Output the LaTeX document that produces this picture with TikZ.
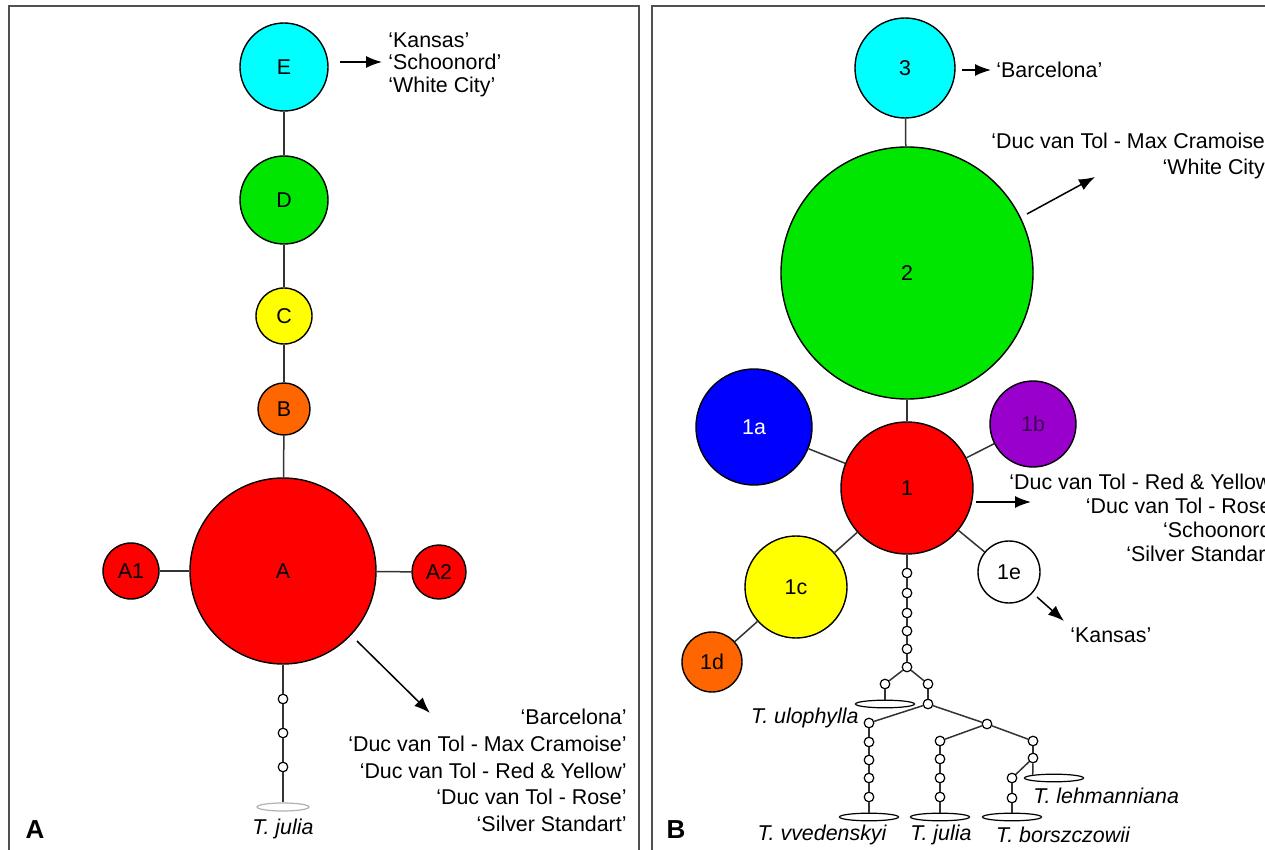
\documentclass[tikz,border=0pt]{standalone}
\usepackage{fontspec}
\setmainfont{Liberation Sans}
\usepackage{tikz}
\usetikzlibrary{positioning, arrows.meta, shapes.geometric}
\definecolor{hapcyan}{RGB}{0,255,255}
\definecolor{hapgreen}{RGB}{0,230,0}
\definecolor{hapyellow}{RGB}{255,255,0}
\definecolor{haporange}{RGB}{255,102,0}
\definecolor{hapred}{RGB}{255,0,0}
\definecolor{hapblue}{RGB}{0,0,255}
\definecolor{happurple}{RGB}{153,0,204}
\definecolor{framegray}{RGB}{80,80,80}

\begin{document}
\begin{tikzpicture}[x=0.5pt, y=-0.5pt, font=\fontsize{10.7}{12.5}\selectfont,
    hap/.style={circle, draw=black, line width=0.7pt, inner sep=0pt},
    mv/.style={circle, draw=black, fill=white, line width=0.6pt, minimum size=4.8pt, inner sep=0pt},
    taxon/.style={ellipse, draw=black, line width=0.6pt, minimum width=29.5pt, minimum height=3.8pt, inner sep=0pt},
    link/.style={draw=black!80, line width=0.75pt},
    pointer/.style={-{Latex[length=8pt,width=6pt]}, line width=0.75pt},
    cultivars/.style={inner sep=0pt},
    species/.style={inner sep=0pt, font=\fontsize{10.7}{12.5}\selectfont\itshape},
    panel/.style={inner sep=0pt, font=\fontsize{13}{14}\selectfont\bfseries}]
 			\useasboundingbox (0,0) rectangle (1265,850);
 			\fill[white] (0,0) rectangle (1265,850);
 			\draw[framegray, line width=0.8pt] (9,6) rectangle (639,870);
 			\draw[framegray, line width=0.8pt] (652,6) rectangle (1280,870);
 			
 			% panel A
 			\node[hap, fill=hapcyan, minimum size=44pt] (E) at (284,67) {E};
 			\node[hap, fill=hapgreen, minimum size=44pt] (D) at (284,200) {D};
 			\node[hap, fill=hapyellow, minimum size=28pt] (C) at (284,316) {C};
 			\node[hap, fill=haporange, minimum size=26pt] (B) at (284,409) {B};
 			\node[hap, fill=hapred, minimum size=93pt] (A) at (283,571) {A};
 			\node[hap, fill=hapred, minimum size=28pt] (A1) at (131,571) {A1};
 			\node[hap, fill=hapred, minimum size=27pt] (A2) at (439,572) {A2};
 			\node[mv] (a1) at (283,699) {};
 			\node[mv] (a2) at (283,733) {};
 			\node[mv] (a3) at (283,767) {};
 			\node[taxon, draw=black!30, minimum width=26pt, minimum height=4pt] (julA) at (283,807) {};
 			\node[species] (julAtxt) at (283,829) {T. julia};
 			
 			\draw[link] (E) edge (D) (D) edge (C) (C) edge (B) (B) edge (A);
 			\draw[link] (A1) edge (A) (A) edge (A2);
 			\draw[link] (A) edge (a1) (a1) edge (a2) (a2) edge (a3) (a3) edge (julA);
 			
 			\coordinate (Eout) at (340,62);
 			\coordinate (Ein) at (382,62);
 			\draw[pointer] (Eout) -- (Ein);
 			\node[cultivars, anchor=north west, align=left, font=\fontsize{10.7}{11.3}\selectfont] (Etxt) at (388,32)
 			  {‘Kansas’\\‘Schoonord’\\‘White City’};
 			\coordinate (Aout) at (357,641);
 			\coordinate (Ain) at (430,713);
 			\draw[pointer] (Aout) -- (Ain);
 			\node[cultivars, anchor=north east, align=right, font=\fontsize{10.7}{13.3}\selectfont] (Atxt) at (627,709)
 			  {‘Barcelona’\\‘Duc van Tol - Max Cramoise’\\‘Duc van Tol - Red \& Yellow’\\‘Duc van Tol - Rose’\\‘Silver Standart’};
 			\node[panel] (labA) at (35,830) {A};
 			
 			% panel B
 			\node[hap, fill=hapcyan, minimum size=50pt] (h3) at (905,68) {3};
 			\node[hap, fill=hapgreen, minimum size=126pt] (h2) at (907,273) {2};
 			\node[hap, fill=hapred, minimum size=66pt] (h1) at (907,488) {1};
 			\node[hap, fill=hapblue, text=white, minimum size=58pt] (h1a) at (754,427) {1a};
 			\node[hap, fill=happurple, text=black!60!happurple, minimum size=43pt] (h1b) at (1033,424) {1b};
 			\node[hap, fill=hapyellow, minimum size=51pt] (h1c) at (796,587) {1c};
 			\node[hap, fill=haporange, minimum size=30pt] (h1d) at (712,662) {1d};
 			\node[hap, fill=white, minimum size=31pt] (h1e) at (1009,572) {1e};
 			
 			\draw[link] (h3) edge (h2) (h2) edge (h1);
 			\draw[link] (h1a) edge (h1) (h1b) edge (h1) (h1c) edge (h1) (h1e) edge (h1) (h1d) edge (h1c);
 			
 			% median vectors and outgroup species
 			\node[mv] (m1) at (907,573) {};
 			\node[mv] (m2) at (907,593) {};
 			\node[mv] (m3) at (907,613) {};
 			\node[mv] (m4) at (907,631) {};
 			\node[mv] (m5) at (907,649) {};
 			\node[mv] (m6) at (907,667) {};
 			\node[mv] (n1) at (885,684) {};
 			\node[mv] (n2) at (928,684) {};
 			\node[mv] (n3) at (928,704) {};
 			\node[mv] (v0) at (869,723) {};
 			\node[mv] (n4) at (987,724) {};
 			\node[mv] (v1) at (869,742) {};
 			\node[mv] (v2) at (869,760) {};
 			\node[mv] (v3) at (869,778) {};
 			\node[mv] (v4) at (869,797) {};
 			\node[mv] (j0) at (940,741) {};
 			\node[mv] (n5) at (1033,741) {};
 			\node[mv] (j1) at (940,759) {};
 			\node[mv] (j2) at (940,778) {};
 			\node[mv] (j3) at (940,797) {};
 			\node[mv] (n6) at (1033,758) {};
 			\node[mv] (b0) at (1012,778) {};
 			\node[mv] (b1) at (1012,798) {};
 			
 			\node[taxon] (ulo) at (885,704) {};
 			\node[taxon] (vve) at (869,817) {};
 			\node[taxon] (julB) at (940,817) {};
 			\node[taxon] (bor) at (1012,817) {};
 			\node[taxon] (leh) at (1054,778) {};
 			
 			\draw[link] (h1) edge (m1) (m1) edge (m2) (m2) edge (m3) (m3) edge (m4) (m4) edge (m5) (m5) edge (m6);
 			\draw[link] (m6) edge (n1) (m6) edge (n2) (n1) edge (ulo) (n2) edge (n3);
 			\draw[link] (n3) edge (v0) (n3) edge (n4);
 			\draw[link] (v0) edge (v1) (v1) edge (v2) (v2) edge (v3) (v3) edge (v4) (v4) edge (vve);
 			\draw[link] (n4) edge (j0) (n4) edge (n5);
 			\draw[link] (j0) edge (j1) (j1) edge (j2) (j2) edge (j3) (j3) edge (julB);
 			\draw[link] (n5) edge (n6) (n6) edge (b0) (n6) edge (leh.north west);
 			\draw[link] (b0) edge (b1) (b1) edge (bor);
 			
 			\node[species, anchor=east] (ulotxt) at (859,718) {T. ulophylla};
 			\node[species] (vvetxt) at (822,835) {T. vvedenskyi};
 			\node[species] (julBtxt) at (941,835) {T. julia};
 			\node[species] (bortxt) at (1063,835) {T. borszczowii};
 			\node[species, anchor=west] (lehtxt) at (1033,796) {T. lehmanniana};
 			
 			% cultivar pointers
 			\coordinate (h3out) at (962,70);
 			\coordinate (h3in) at (991,70);
 			\draw[pointer] (h3out) -- (h3in);
 			\node[cultivars, anchor=west] (h3txt) at (996,70) {‘Barcelona’};
 			\coordinate (h2out) at (1027,214);
 			\coordinate (h2in) at (1095,177);
 			\draw[pointer] (h2out) -- (h2in);
 			\node[cultivars, anchor=north west, align=right, font=\fontsize{10.7}{13}\selectfont] (h2txt) at (991,133)
 			  {‘Duc van Tol - Max Cramoise’\\‘White City’};
 			\coordinate (h1out) at (976,502);
 			\coordinate (h1in) at (1031,502);
 			\draw[pointer] (h1out) -- (h1in);
 			\node[cultivars, anchor=north west, align=right, font=\fontsize{10.7}{12}\selectfont] (h1txt) at (1009,474)
 			  {‘Duc van Tol - Red \& Yellow’\\‘Duc van Tol - Rose’\\‘Schoonord’\\‘Silver Standart’};
 			\coordinate (h1eout) at (1037,597);
 			\coordinate (h1ein) at (1064,621);
 			\draw[pointer] (h1eout) -- (h1ein);
 			\node[cultivars, anchor=west] (h1etxt) at (1070,635) {‘Kansas’};
 			\node[panel] (labB) at (676,830) {B};
 		\end{tikzpicture}
\end{document}
